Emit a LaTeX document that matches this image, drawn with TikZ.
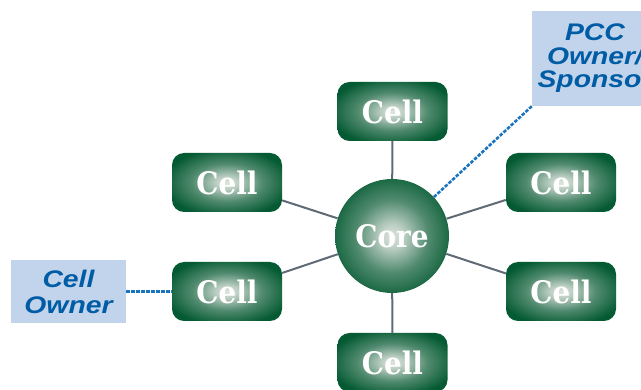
\documentclass[tikz,border=0pt]{standalone}
\usepackage{fontspec}
\newfontfamily\cellfont[FakeStretch=0.9]{DejaVu Serif}
\newfontfamily\labfont[FakeStretch=1.18]{Liberation Sans}
\definecolor{gdark}{RGB}{4,90,50}
\definecolor{glight}{RGB}{222,228,222}
\definecolor{lblue}{RGB}{194,212,235}
\definecolor{ltext}{RGB}{0,92,165}
\definecolor{lgray}{RGB}{95,106,118}
\definecolor{dblue}{RGB}{25,115,190}
\pgfdeclareradialshading{cellshade}{\pgfpoint{0bp}{0bp}}{color(0bp)=(glight); color(5bp)=(glight!85!gdark); color(16bp)=(gdark!65!glight); color(29bp)=(gdark); color(50bp)=(gdark)}
\begin{document}
\begin{tikzpicture}[x=1pt,y=-1pt,
  cellbox/.style={rectangle, rounded corners=12pt, minimum width=110pt, minimum height=59pt, shading=cellshade, text=white, font=\cellfont\bfseries\fontsize{31}{34}\selectfont, inner sep=0pt},
  corenode/.style={circle, minimum size=114pt, shading=cellshade, text=white, font=\cellfont\bfseries\fontsize{31}{34}\selectfont, inner sep=0pt},
  labbox/.style={rectangle, fill=lblue, text=ltext, align=center, inner sep=0pt},
  conn/.style={draw=lgray, line width=2pt},
  dotline/.style={draw=dblue, line width=2.6pt, dash pattern=on 3.5pt off 1.5pt}]
\clip (0,0) rectangle (641,390);
\node[corenode] (core) at (392,236) {Core};
\node[cellbox] (c1) at (392.5,111.5) {Cell};
\node[cellbox] (c2) at (227,182.5) {Cell};
\node[cellbox] (c3) at (227,291.5) {Cell};
\node[cellbox] (c4) at (561,182.5) {Cell};
\node[cellbox] (c5) at (561,291.5) {Cell};
\node[cellbox] (c6) at (392.5,362.5) {Cell};
\node[labbox, minimum width=115pt, minimum height=63pt, font=\labfont\bfseries\itshape\fontsize{24}{26}\selectfont] (own) at (68.5,291.5) {Cell\\Owner};
\node[labbox, minimum width=126pt, minimum height=95pt, font=\labfont\bfseries\itshape\fontsize{24}{23.5}\selectfont] (pcc) at (595,58.5) {PCC\\Owner/\\Sponsor};
\foreach \c in {c1,c2,c3,c4,c5,c6} \draw[conn] (core) -- (\c);
\draw[dotline] (own.east) -- (c3.west);
\draw[dotline] (core) -- (pcc.south west);
\end{tikzpicture}
\end{document}
